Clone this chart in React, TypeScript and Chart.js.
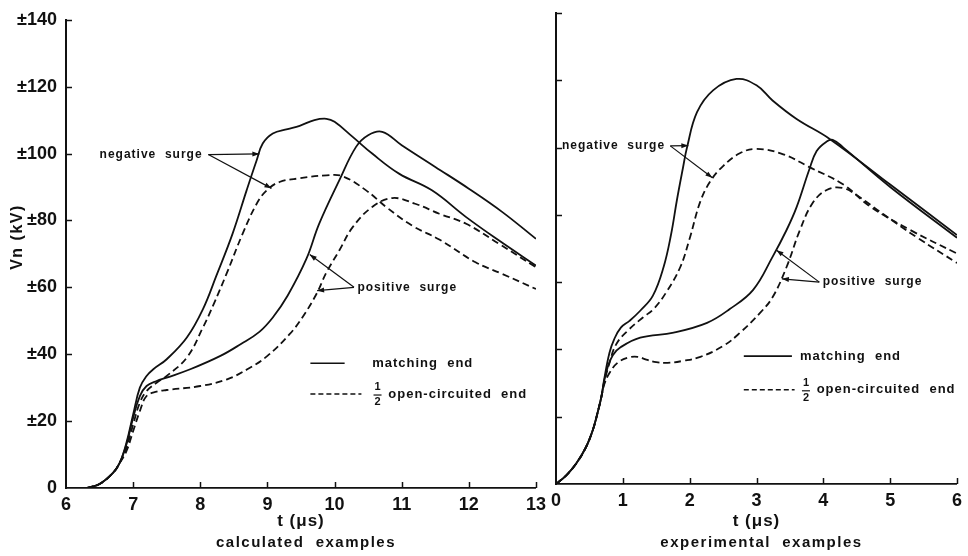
import React, { useEffect, useRef } from "react";
import { Chart, registerables } from "chart.js";
Chart.register(...registerables);

// ---------- Tick labels ----------
const vTickLabels = ["0", "±20", "±40", "±60", "±80", "±100", "±120", "±140"];
const calcTicksT = [6, 7, 8, 9, 10, 11, 12, 13];
const expTicksT = [0, 1, 2, 3, 4, 5, 6];

// ---------- Left panel: calculated examples (t in µs) ----------
// negative surge, matching end (solid)
const calcNegMatchT = [6.3, 6.5, 6.7, 6.8, 6.9, 7.0, 7.1, 7.2, 7.3, 7.5, 7.8, 8.04, 8.24, 8.48, 8.69, 8.84, 8.93, 9.08, 9.3, 9.48, 9.7, 9.88, 10.0, 10.27, 10.56, 10.96, 11.45, 11.96, 12.45, 13.0];
const calcNegMatchV = [0, 1.2, 4.5, 7.5, 13.5, 22, 30, 33.5, 35.5, 38.5, 45, 53.5, 63.5, 76, 89, 98, 103, 106, 107.3, 108.3, 110, 110.4, 109.5, 105, 100, 94, 89, 81, 74, 66.5];
// negative surge, 1/2 open-circuited end (dashed)
const calcNegOpenT = [6.3, 6.5, 6.7, 6.8, 6.9, 7.0, 7.1, 7.2, 7.35, 7.5, 7.8, 8.04, 8.2, 8.39, 8.63, 8.84, 8.99, 9.18, 9.48, 9.88, 10.12, 10.47, 10.77, 11.16, 11.56, 12.1, 12.5, 13.0];
const calcNegOpenV = [0, 1.2, 4.5, 7.5, 12, 19, 25.5, 29, 31.5, 33.5, 39, 48, 55, 64, 76, 85, 89, 91.5, 92.6, 93.5, 93.2, 89, 84, 78.4, 74.3, 67.5, 64, 59.5];
// positive surge, matching end (solid)
const calcPosMatchT = [6.3, 6.5, 6.7, 6.8, 6.9, 7.0, 7.1, 7.2, 7.35, 7.5, 7.85, 8.3, 8.6, 8.88, 9.08, 9.3, 9.58, 9.77, 10.07, 10.32, 10.5, 10.71, 11.0, 11.5, 12.0, 12.5, 13.0];
const calcPosMatchV = [0, 1.2, 4.5, 7.5, 13, 21, 27.5, 30.5, 32, 33, 35.5, 39.5, 43, 46.7, 51, 57.5, 68.5, 79, 92, 102, 105.5, 106.5, 102.5, 96, 89.5, 82.5, 74.5];
// positive surge, 1/2 open-circuited end (dashed)
const calcPosOpenT = [6.3, 6.5, 6.7, 6.8, 6.9, 7.0, 7.1, 7.2, 7.35, 7.5, 8.0, 8.4, 8.7, 9.0, 9.33, 9.52, 9.73, 9.88, 10.07, 10.27, 10.56, 10.86, 11.2, 11.56, 11.96, 12.45, 13.0];
const calcPosOpenV = [0, 1.2, 4.5, 7.5, 11, 17, 23, 27.5, 28.8, 29.3, 30.5, 32.5, 35.5, 39.5, 46, 51, 58, 64.5, 71, 78, 84, 86.7, 85, 82, 79, 73, 66];

// ---------- Right panel: experimental examples (t in µs) ----------
const expNegMatchT = [0, 0.15, 0.3, 0.45, 0.55, 0.62, 0.68, 0.72, 0.8, 0.87, 0.97, 1.1, 1.26, 1.45, 1.61, 1.72, 1.81, 1.9, 1.96, 2.11, 2.35, 2.7, 3.0, 3.24, 3.6, 4.1, 5.0, 6.0];
const expNegMatchV = [0, 2.5, 6, 11, 16, 21, 26, 31, 39, 43, 46.5, 48.5, 51.5, 56, 64.5, 74, 84.5, 94, 100, 110.5, 117, 120.4, 118.5, 114, 108.5, 102.5, 89, 74];
const expNegOpenT = [0, 0.15, 0.3, 0.45, 0.55, 0.62, 0.68, 0.72, 0.8, 0.9, 1.07, 1.3, 1.46, 1.65, 1.86, 2.0, 2.16, 2.31, 2.5, 2.75, 3.0, 3.4, 3.79, 4.3, 4.7, 5.3, 6.0];
const expNegOpenV = [0, 2.5, 6, 11, 16, 21, 26, 30, 36, 41.5, 45.5, 49.5, 52, 57, 64.5, 73, 84, 90, 94.5, 98.3, 99.6, 98, 94.2, 89, 82.5, 75.5, 68.5];
const expPosMatchT = [0, 0.15, 0.3, 0.45, 0.55, 0.62, 0.68, 0.72, 0.77, 0.85, 0.97, 1.26, 1.76, 2.26, 2.6, 2.95, 3.24, 3.45, 3.6, 3.79, 3.9, 4.05, 4.14, 4.3, 5.0, 6.0];
const expPosMatchV = [0, 2.5, 6, 11, 16, 21, 26, 30.5, 34.5, 38.3, 40.7, 43.5, 45, 47.9, 52, 57.7, 67.5, 75.5, 82.3, 93.5, 99, 101.8, 102.3, 100, 88.3, 73.2];
const expPosOpenT = [0, 0.15, 0.3, 0.45, 0.55, 0.62, 0.68, 0.72, 0.8, 0.92, 1.07, 1.22, 1.35, 1.5, 1.67, 1.9, 2.16, 2.5, 2.75, 3.05, 3.24, 3.45, 3.65, 3.84, 4.05, 4.29, 4.54, 4.84, 5.4, 6.0];
const expPosOpenV = [0, 2.5, 6, 11, 16, 21, 26, 29.5, 33, 36, 37.5, 37.8, 37, 36.2, 36, 36.6, 37.8, 41, 44.9, 50.8, 55.5, 64.5, 75.5, 83.5, 87.4, 88, 85.3, 81, 73.3, 65.7];

const FONT = "'Liberation Sans', Arial, sans-serif";
const INK = "#111";

const pts = (t: number[], v: number[]) => t.map((x, i) => ({ x, y: v[i] }));

const line = (t: number[], v: number[], dashed: boolean) => ({
  data: pts(t, v),
  borderColor: INK,
  borderWidth: 1.8,
  borderDash: dashed ? [7, 4] : [],
  pointRadius: 0,
  fill: false,
  tension: 0.4,
});

function arrow(ctx: CanvasRenderingContext2D, x1: number, y1: number, x2: number, y2: number) {
  ctx.beginPath();
  ctx.moveTo(x1, y1);
  ctx.lineTo(x2, y2);
  ctx.stroke();
  const a = Math.atan2(y2 - y1, x2 - x1);
  const L = 7, W = 2.5;
  ctx.beginPath();
  ctx.moveTo(x2, y2);
  ctx.lineTo(x2 - L * Math.cos(a) + W * Math.sin(a), y2 - L * Math.sin(a) - W * Math.cos(a));
  ctx.lineTo(x2 - L * Math.cos(a) - W * Math.sin(a), y2 - L * Math.sin(a) + W * Math.cos(a));
  ctx.closePath();
  ctx.fill();
}

type Note = { text: string; t: number; v: number; from: [number, number]; to: [number, number][] };
type Legend = { sT1: number; sT2: number; sV: number; sTextT: number; dT1: number; dT2: number; dV: number; fracT: number; dTextT: number };

function makePlugin(opts: {
  xTicks: number[];
  title: string;
  sub: string;
  yTitle: boolean;
  notes: Note[];
  legend: Legend;
}) {
  return {
    id: "decor",
    afterDraw(chart: any) {
      const { ctx, chartArea } = chart;
      const xs = chart.scales.x;
      const ys = chart.scales.y;
      ctx.save();
      ctx.strokeStyle = INK;
      ctx.fillStyle = INK;
      // inner ticks
      ctx.lineWidth = 1.5;
      for (let v = 20; v <= 140; v += 20) {
        const py = Math.round(ys.getPixelForValue(v)) + 0.5;
        ctx.beginPath();
        ctx.moveTo(chartArea.left, py);
        ctx.lineTo(chartArea.left + 6, py);
        ctx.stroke();
      }
      opts.xTicks.slice(1).forEach((t) => {
        const px = Math.round(xs.getPixelForValue(t)) + 0.5;
        ctx.beginPath();
        ctx.moveTo(px, chartArea.bottom);
        ctx.lineTo(px, chartArea.bottom - 6);
        ctx.stroke();
      });
      // axis titles
      const cx = (chartArea.left + chartArea.right) / 2;
      ctx.textAlign = "center";
      ctx.textBaseline = "middle";
      (ctx as any).letterSpacing = "1px";
      ctx.font = `bold 17px ${FONT}`;
      ctx.fillText(opts.title, cx, 521);
      (ctx as any).letterSpacing = "1.5px";
      ctx.font = `bold 15px ${FONT}`;
      ctx.fillText(opts.sub, cx + 5, 543);
      if (opts.yTitle) {
        ctx.save();
        ctx.translate(18, 237);
        ctx.rotate(-Math.PI / 2);
        (ctx as any).letterSpacing = "1.5px";
        ctx.font = `bold 16px ${FONT}`;
        ctx.fillText("Vn (kV)", 0, 0);
        ctx.restore();
      }
      // annotations
      ctx.lineWidth = 1.2;
      (ctx as any).letterSpacing = "1px";
      ctx.font = `bold 12px ${FONT}`;
      ctx.textAlign = "left";
      opts.notes.forEach((n) => {
        ctx.fillText(n.text, xs.getPixelForValue(n.t), ys.getPixelForValue(n.v));
        const fx = xs.getPixelForValue(n.from[0]);
        const fy = ys.getPixelForValue(n.from[1]);
        n.to.forEach(([t, v]) => arrow(ctx, fx, fy, xs.getPixelForValue(t), ys.getPixelForValue(v)));
      });
      // legend
      const L = opts.legend;
      ctx.lineWidth = 1.6;
      const sy = ys.getPixelForValue(L.sV);
      ctx.beginPath();
      ctx.moveTo(xs.getPixelForValue(L.sT1), sy);
      ctx.lineTo(xs.getPixelForValue(L.sT2), sy);
      ctx.stroke();
      ctx.font = `bold 13px ${FONT}`;
      ctx.fillText("matching  end", xs.getPixelForValue(L.sTextT), sy);
      const dy = ys.getPixelForValue(L.dV);
      ctx.setLineDash([5, 3]);
      ctx.beginPath();
      ctx.moveTo(xs.getPixelForValue(L.dT1), dy);
      ctx.lineTo(xs.getPixelForValue(L.dT2), dy);
      ctx.stroke();
      ctx.setLineDash([]);
      const fx = xs.getPixelForValue(L.fracT);
      ctx.textAlign = "center";
      (ctx as any).letterSpacing = "0px";
      ctx.font = `bold 11px ${FONT}`;
      ctx.fillText("1", fx, dy - 7);
      ctx.fillText("2", fx, dy + 8);
      ctx.lineWidth = 1.2;
      ctx.beginPath();
      ctx.moveTo(fx - 4, dy + 1);
      ctx.lineTo(fx + 4, dy + 1);
      ctx.stroke();
      ctx.textAlign = "left";
      (ctx as any).letterSpacing = "1px";
      ctx.font = `bold 13px ${FONT}`;
      ctx.fillText("open-circuited  end", xs.getPixelForValue(L.dTextT), dy);
      ctx.restore();
    },
  };
}

function buildConfig(p: {
  datasets: any[];
  xMin: number;
  xMax: number;
  yLabels: boolean;
  yWidth: number;
  xHeight: number;
  padTop: number;
  padRight: number;
  plugin: any;
}) {
  return {
    type: "line",
    data: { datasets: p.datasets },
    plugins: [p.plugin],
    options: {
      responsive: false,
      animation: false,
      devicePixelRatio: 1,
      layout: { padding: { left: 0, right: p.padRight, top: p.padTop, bottom: 0 } },
      plugins: { legend: { display: false }, tooltip: { enabled: false } },
      scales: {
        x: {
          type: "linear",
          min: p.xMin,
          max: p.xMax,
          ticks: {
            stepSize: 1,
            padding: 6,
            color: INK,
            font: { family: FONT, size: 18, weight: "bold" },
            maxRotation: 0,
          },
          grid: { display: false, drawTicks: false },
          border: { display: true, color: INK, width: 1.8 },
          afterFit: (s: any) => {
            s.height = p.xHeight;
          },
        },
        y: {
          type: "linear",
          min: 0,
          max: 140,
          ticks: {
            display: p.yLabels,
            stepSize: 20,
            padding: 9,
            color: INK,
            font: { family: FONT, size: 18, weight: "bold" },
            callback: (_v: any, i: number) => vTickLabels[i],
          },
          grid: { display: false, drawTicks: false },
          border: { display: true, color: INK, width: 2 },
          afterFit: (s: any) => {
            s.width = p.yWidth;
          },
        },
      },
    },
  };
}

export default function App() {
  const leftRef = useRef<HTMLCanvasElement>(null);
  const rightRef = useRef<HTMLCanvasElement>(null);

  useEffect(() => {
    const left = new Chart(
      leftRef.current as HTMLCanvasElement,
      buildConfig({
        datasets: [
          line(calcNegMatchT, calcNegMatchV, false),
          line(calcNegOpenT, calcNegOpenV, true),
          line(calcPosMatchT, calcPosMatchV, false),
          line(calcPosOpenT, calcPosOpenV, true),
        ],
        xMin: 6,
        xMax: 13,
        yLabels: true,
        yWidth: 66,
        xHeight: 68,
        padTop: 15,
        padRight: 11,
        plugin: makePlugin({
          xTicks: calcTicksT,
          title: "t (μs)",
          sub: "calculated  examples",
          yTitle: true,
          notes: [
            { text: "negative  surge", t: 6.5, v: 99.8, from: [8.12, 99.7], to: [[8.88, 99.9], [9.06, 89.6]] },
            { text: "positive  surge", t: 10.34, v: 60, from: [10.29, 60], to: [[9.63, 69.8], [9.74, 59]] },
          ],
          legend: { sT1: 9.64, sT2: 10.15, sV: 37.3, sTextT: 10.56, dT1: 9.64, dT2: 10.4, dV: 28.1, fracT: 10.64, dTextT: 10.8 },
        }),
      }) as any
    );
    const right = new Chart(
      rightRef.current as HTMLCanvasElement,
      buildConfig({
        datasets: [
          line(expNegMatchT, expNegMatchV, false),
          line(expNegOpenT, expNegOpenV, true),
          line(expPosMatchT, expPosMatchV, false),
          line(expPosOpenT, expPosOpenV, true),
        ],
        xMin: 0,
        xMax: 6,
        yLabels: false,
        yWidth: 7,
        xHeight: 72,
        padTop: 13,
        padRight: 10,
        plugin: makePlugin({
          xTicks: expTicksT,
          title: "t (μs)",
          sub: "experimental  examples",
          yTitle: false,
          notes: [
            { text: "negative  surge", t: 0.09, v: 100.5, from: [1.71, 100.5], to: [[1.98, 100.6], [2.34, 91]] },
            { text: "positive  surge", t: 3.99, v: 60, from: [3.94, 60], to: [[3.3, 69.5], [3.38, 61]] },
          ],
          legend: { sT1: 2.81, sT2: 3.53, sV: 38, sTextT: 3.65, dT1: 2.81, dT2: 3.57, dV: 28, fracT: 3.74, dTextT: 3.9 },
        }),
      }) as any
    );
    return () => {
      left.destroy();
      right.destroy();
    };
  }, []);

  return (
    <div style={{ position: "fixed", left: 0, top: 0, width: 968, height: 556, background: "#fff" }}>
      <canvas ref={leftRef} width={552} height={556} style={{ position: "absolute", left: 0, top: 0, display: "block" }} />
      <canvas ref={rightRef} width={423} height={556} style={{ position: "absolute", left: 545, top: 0, display: "block" }} />
    </div>
  );
}
